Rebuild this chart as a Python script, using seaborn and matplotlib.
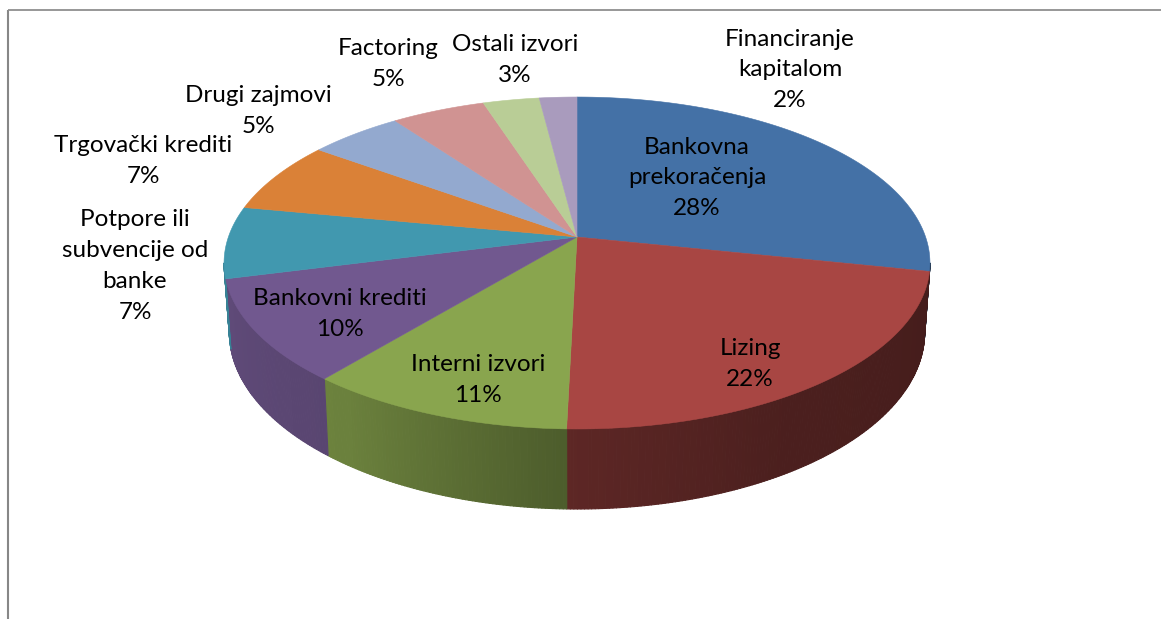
import numpy as np
import matplotlib
matplotlib.use('Agg')
import matplotlib.pyplot as plt
import seaborn as sns
from matplotlib.collections import PolyCollection
from matplotlib.colors import to_rgb

sns.set_theme(style='white')
plt.rcParams['font.family'] = ['Lato', 'DejaVu Sans']

# udjeli izvora financiranja (%), redom u smjeru kazaljke od vrha
sources = ['Bankovna\nprekoračenja', 'Lizing', 'Interni izvori', 'Bankovni krediti',
           'Potpore ili\nsubvencije od\nbanke', 'Trgovački krediti', 'Drugi zajmovi',
           'Factoring', 'Ostali izvori', 'Financiranje\nkapitalom']
shares = [28.3, 22.1, 10.6, 10.0, 7.0, 7.0, 5.0, 5.0, 3.0, 2.0]
colors = ['#4471A6', '#A84643', '#89A54E', '#71588F', '#4198AF',
          '#DA8137', '#93A9CF', '#D09392', '#B9CD96', '#A99BBD']

# gdje stoje oznake (pikseli slike)
label_pos = [(697, 178), (750, 364), (478, 380), (340, 314), (135, 266),
             (143, 161), (258, 111), (388, 64), (515, 60), (790, 70)]

# "3D" perspektiva - elipsa s pomaknutim sredistem
CX, CY = 577, 237
SX, SY = 348.6, 161.9
K = 0.1566
DEPTH = 67.5


def project(theta, depth=0.0):
    t = np.radians(theta)
    X, Y = np.sin(t), -np.cos(t)
    den = 1 - K * Y
    shrink = 0.985 if depth > 0 else 1.0
    return CX + SX * X * shrink / den, CY + (SY * Y + depth) / den


def shade(theta):
    return np.interp(theta, [90, 150, 180, 215, 270], [0.40, 0.45, 0.55, 0.78, 0.87])


fig = plt.figure(figsize=(11.61, 6.19), dpi=100)
ax = fig.add_axes([0, 0, 1, 1])
ax.set_xlim(0, 1161)
ax.set_ylim(619, 0)
ax.axis('off')

total = sum(shares)
cum = np.concatenate([[0], np.cumsum(shares)]) / total * 360

# bocne stranice (vidljiv samo prednji dio, do ruba siluete)
side_polys, side_cols = [], []
for i, c in enumerate(colors):
    lo, hi = max(cum[i], 99), min(cum[i + 1], 261)
    if lo >= hi:
        continue
    th = np.linspace(lo, hi, max(int((hi - lo) / 0.5), 2) + 1)
    for a, b in zip(th[:-1], th[1:]):
        xa, ya = project(a)
        xb, yb = project(b)
        xb2, yb2 = project(b, DEPTH)
        xa2, ya2 = project(a, DEPTH)
        side_polys.append([(xa, ya), (xb, yb), (xb2, yb2), (xa2, ya2)])
        side_cols.append(np.array(to_rgb(c)) * shade((a + b) / 2))
ax.add_collection(PolyCollection(side_polys, facecolors=side_cols,
                                 edgecolors=side_cols, linewidths=0.8))

# gornja ploha
top_polys = []
for i in range(len(shares)):
    th = np.linspace(cum[i], cum[i + 1], max(int((cum[i + 1] - cum[i]) / 0.5), 2) + 1)
    xs, ys = project(th)
    top_polys.append([(CX, CY)] + list(zip(xs, ys)))
ax.add_collection(PolyCollection(top_polys, facecolors=colors,
                                 edgecolors=colors, linewidths=0.4))

# oznake
for name, val, (lx, ly) in zip(sources, shares, label_pos):
    ax.text(lx, ly, f'{name}\n{round(val):.0f}%', ha='center', va='center',
            multialignment='center', fontsize=17.5, linespacing=1.58, color='black')

# okvir grafikona
ax.plot([8, 8], [10, 640], color='#878787', lw=1.5, solid_capstyle='butt')
ax.plot([8, 1170], [10, 10], color='#8f8f8f', lw=1.3, solid_capstyle='butt')

fig.savefig('out.png', dpi=100)
